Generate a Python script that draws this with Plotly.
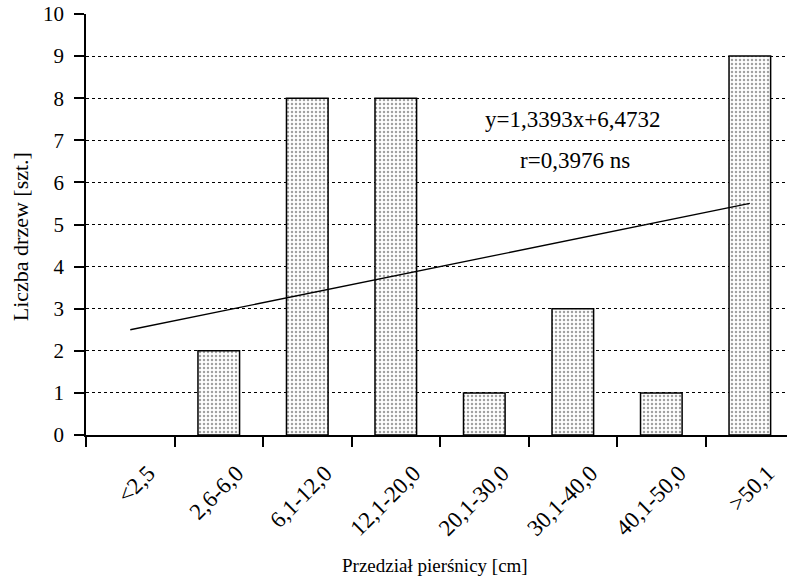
import plotly.graph_objects as go

categories = ["<2,5", "2,6-6,0", "6,1-12,0", "12,1-20,0", "20,1-30,0", "30,1-40,0", "40,1-50,0", ">50,1"]
counts = [0, 2, 8, 8, 1, 3, 1, 9]
trend_x = ["<2,5", ">50,1"]
trend_y = [2.5, 5.5]
y_ticks = list(range(0, 11))

FONT = "Liberation Serif"

fig = go.Figure()
fig.add_trace(go.Bar(
    x=categories, y=counts, width=0.47,
    marker=dict(color="white",
                line=dict(color="black", width=[0 if c == 0 else 1.5 for c in counts]),
                pattern=dict(shape=".", fgcolor="#444", bgcolor="white", size=4, solidity=0.3)),
    showlegend=False,
))
fig.add_trace(go.Scatter(
    x=trend_x, y=trend_y, mode="lines",
    line=dict(color="black", width=1.3), showlegend=False,
))

fig.add_annotation(x=5.0, y=7.5, xref="x", yref="y", text="y=1,3393x+6,4732",
                   showarrow=False, font=dict(family=FONT, size=23, color="black"))
fig.add_annotation(x=5.02, y=6.53, xref="x", yref="y", text="r=0,3976 ns",
                   showarrow=False, font=dict(family=FONT, size=23, color="black"))

# axis titles
fig.add_annotation(x=0.498, y=-0.311, xref="paper", yref="paper", text="Przedział pierśnicy [cm]",
                   xanchor="center", yanchor="middle",
                   showarrow=False, font=dict(family=FONT, size=19, color="black"))
fig.add_annotation(x=-0.094, y=0.47, xref="paper", yref="paper", text="Liczba drzew [szt.]",
                   xanchor="center", yanchor="middle",
                   textangle=-90, showarrow=False, font=dict(family=FONT, size=22, color="black"))

fig.update_layout(
    width=787, height=583,
    margin=dict(l=86, r=0, t=14, b=148),
    plot_bgcolor="white", paper_bgcolor="white",
    font=dict(family=FONT, size=20, color="black"),
    xaxis=dict(
        type="category", range=[-0.5, 7.42],
        showline=True, linecolor="black", linewidth=1.5,
        ticks="outside", tickson="boundaries", ticklen=10, tickwidth=1.5, tickcolor="black",
        tickangle=-45, tickfont=dict(family=FONT, size=23),
        ticklabelshift=18, ticklabelstandoff=14,
        showgrid=False,
    ),
    yaxis=dict(
        range=[0, 10], tickvals=y_ticks,
        showline=True, linecolor="black", linewidth=1.5,
        ticks="outside", ticklen=10, tickwidth=1.5, tickcolor="black",
        tickfont=dict(family=FONT, size=21), ticklabelstandoff=6,
        showgrid=True, gridcolor="black", gridwidth=1, griddash="dot",
        zeroline=False,
    ),
)

fig.write_html("out.html")
